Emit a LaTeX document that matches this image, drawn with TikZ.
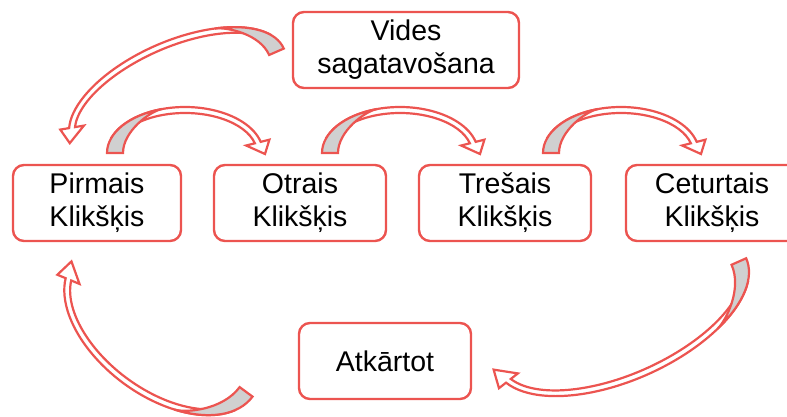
\documentclass[tikz,border=0pt]{standalone}
\usepackage{fontspec}
\setmainfont{Liberation Sans}
\usepackage{tikz}
\definecolor{boxred}{RGB}{236,84,80}
\definecolor{tailgray}{RGB}{208,208,208}
\tikzset{
  box/.style={draw=boxred, line width=2.4pt, rounded corners=11pt, fill=white,
    align=center, inner sep=0pt, minimum height=76pt,
    font=\fontsize{28.5}{33}\selectfont},
  ribbon/.style={draw=boxred, line width=2.2pt, fill=white},
  tailpart/.style={ribbon, fill=tailgray}
}
\newcommand{\curvedarrow}[2]{%
  \pgfmathsetmacro{\ra}{#1}\pgfmathsetmacro{\rb}{#2}
  \pgfmathsetmacro{\ia}{#1-6}\pgfmathsetmacro{\ib}{#2-6}
  \pgfmathsetmacro{\oa}{#1+9}\pgfmathsetmacro{\ob}{#2+9}
  \pgfmathsetmacro{\ja}{#1-15}\pgfmathsetmacro{\jb}{#2-15}
  \pgfmathsetmacro{\tipx}{#1+2}
  \pgfmathsetmacro{\ta}{#1-16}
  \pgfmathsetmacro{\ph}{acos(-(#1-55)/#1)}
  \pgfmathsetmacro{\px}{#1*cos(\ph)}\pgfmathsetmacro{\py}{#2*sin(\ph)}
  \pgfmathsetmacro{\tx}{-#1*sin(\ph)}\pgfmathsetmacro{\ty}{#2*cos(\ph)}
  \pgfmathsetmacro{\nn}{sqrt(\tx*\tx+\ty*\ty)}
  \pgfmathsetmacro{\cxa}{\px+12*\tx/\nn}\pgfmathsetmacro{\cya}{\py+12*\ty/\nn}
  \pgfmathsetmacro{\cyb}{0.5*\py}
  \filldraw[ribbon] (160:\ra pt and \rb pt)
    arc[start angle=160, end angle=14, x radius=\ra pt, y radius=\rb pt]
    -- (14:\oa pt and \ob pt) -- (\tipx pt,-1pt) -- (14:\ja pt and \jb pt)
    -- (14:\ia pt and \ib pt)
    arc[start angle=14, end angle=160, x radius=\ia pt, y radius=\ib pt] -- cycle;
  \filldraw[tailpart] (-\ra pt,0pt)
    arc[start angle=180, end angle=\ph, x radius=\ra pt, y radius=\rb pt]
    .. controls (\cxa pt,\cya pt) and (-\ta pt,\cyb pt) .. (-\ta pt,0pt) -- cycle;
}

\begin{document}
\begin{tikzpicture}[x=1pt,y=1pt]
  \clip (0,0) rectangle (787,416);

  \path (406,366) node[box, minimum width=226pt] (v) {Vides\\sagatavošana};
  \path (97,213) node[box, minimum width=168pt] (p) {Pirmais\\Klikšķis};
  \path (300,213) node[box, minimum width=172pt] (o) {Otrais\\Klikšķis};
  \path (505,213) node[box, minimum width=172pt] (t) {Trešais\\Klikšķis};
  \path (712,213) node[box, minimum width=172pt] (c) {Ceturtais\\Klikšķis};
  \path (385,55) node[box, minimum width=172pt] (a) {Atkārtot};

  \begin{scope}[shift={(177.5,321)}, rotate=203.6, yscale=-1]
    \curvedarrow{116}{54}
  \end{scope}
  \begin{scope}[shift={(185,263)}]
    \curvedarrow{78}{46}
  \end{scope}
  \begin{scope}[shift={(400,263)}]
    \curvedarrow{78}{46}
  \end{scope}
  \begin{scope}[shift={(621,263)}]
    \curvedarrow{78}{46}
  \end{scope}
  \begin{scope}[shift={(621,102)}, rotate=204]
    \curvedarrow{137}{66}
  \end{scope}
  \begin{scope}[shift={(162.5,86)}, rotate=143.5]
    \curvedarrow{112}{66}
  \end{scope}
\end{tikzpicture}
\end{document}
